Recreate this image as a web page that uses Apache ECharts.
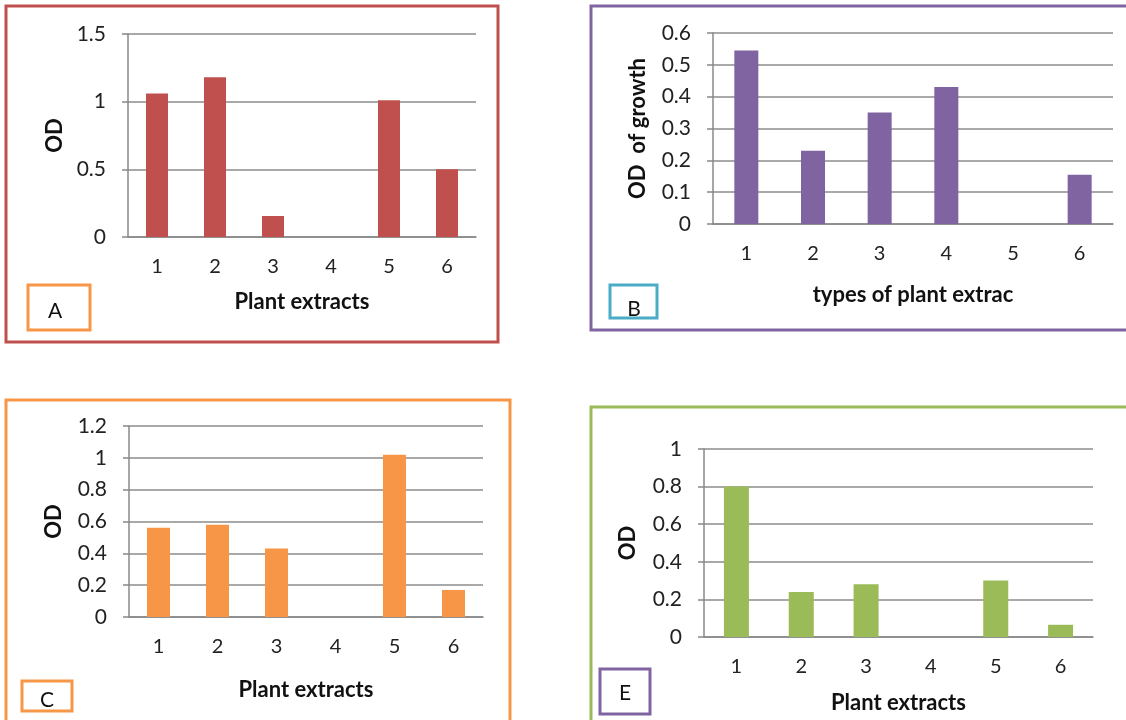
<!DOCTYPE html>
<html><head><meta charset="utf-8">
<script src="https://cdn.jsdelivr.net/npm/echarts@6/dist/echarts.min.js"></script>
<style>html,body{margin:0;padding:0;background:#fff}#c{width:1126px;height:720px}</style>
</head><body><div id="c"></div>
<script>
const categories = ['1','2','3','4','5','6'];
const valuesA = [1.06, 1.18, 0.155, 0, 1.01, 0.5];
const valuesB = [0.545, 0.23, 0.35, 0.43, 0, 0.155];
const valuesC = [0.56, 0.58, 0.43, 0, 1.02, 0.17];
const valuesE = [0.8, 0.24, 0.28, 0, 0.3, 0.065];
const yTitles = ['OD', 'OD  of growth', 'OD', 'OD'];
const xTitles = ['Plant extracts', 'types of plant extrac', 'Plant extracts', 'Plant extracts'];
const panelLabels = ['A', 'B', 'C', 'E'];

const font = 'Lato, "Open Sans", sans-serif';
const grids = [
  {left:128, top:34, width:348, height:203},
  {left:713, top:33, width:400, height:191},
  {left:129, top:426, width:354, height:191},
  {left:704, top:449, width:389, height:188}
];
const yCfg = [
  {max:1.5, interval:0.5},
  {max:0.6, interval:0.1},
  {max:1.2, interval:0.2},
  {max:1, interval:0.2}
];
const colors = ['#c0504d', '#8064a2', '#f79646', '#9bbb59'];
const data = [valuesA, valuesB, valuesC, valuesE];
const barW = [22, 24, 23, 25];
const yNameGap = [62, 64, 64, 65];
const xNameGap = [54, 60, 62, 55];

const option = {
  animation: false,
  grid: grids,
  xAxis: grids.map((g, i) => ({
    type: 'category', gridIndex: i, data: categories,
    axisLine: {show: true, lineStyle: {color: '#888888', width: 1.5}},
    axisTick: {show: false},
    axisLabel: {color: '#222', fontSize: 20, fontFamily: font, margin: 20},
    name: xTitles[i], nameLocation: 'middle', nameGap: xNameGap[i],
    nameTextStyle: {color: '#111', fontSize: 22, fontWeight: 'bold', fontFamily: font}
  })),
  yAxis: grids.map((g, i) => ({
    type: 'value', gridIndex: i, min: 0, max: yCfg[i].max, interval: yCfg[i].interval,
    axisLine: {show: true, lineStyle: {color: '#888888', width: 1.5}},
    axisTick: {show: true, length: 6, lineStyle: {color: '#888888', width: 1.5}},
    splitLine: {show: true, lineStyle: {color: '#8c8c8c', width: 1.5}},
    axisLabel: {color: '#222', fontSize: 21, fontFamily: font, margin: 22},
    name: yTitles[i], nameLocation: 'middle', nameRotate: 90, nameGap: yNameGap[i],
    nameTextStyle: {color: '#111', fontSize: 22, fontWeight: 'bold', fontFamily: font}
  })),
  series: data.map((d, i) => ({
    type: 'bar', xAxisIndex: i, yAxisIndex: i, data: d,
    barWidth: barW[i], itemStyle: {color: colors[i]}
  })),
  graphic: [
    {type:'rect', shape:{x:6, y:6, width:492, height:336}, style:{fill:'none', stroke:'#c0504d', lineWidth:3}},
    {type:'rect', shape:{x:591, y:6, width:545, height:324}, style:{fill:'none', stroke:'#8064a2', lineWidth:3}},
    {type:'rect', shape:{x:6, y:400, width:504, height:340}, style:{fill:'none', stroke:'#f79646', lineWidth:3}},
    {type:'rect', shape:{x:591, y:407, width:545, height:330}, style:{fill:'none', stroke:'#9bbb59', lineWidth:3}},
    {type:'rect', shape:{x:28, y:285, width:62, height:45}, style:{fill:'none', stroke:'#f79646', lineWidth:3}},
    {type:'rect', shape:{x:610, y:285, width:47, height:33}, style:{fill:'none', stroke:'#4bacc6', lineWidth:3}},
    {type:'rect', shape:{x:22, y:681, width:50, height:30}, style:{fill:'none', stroke:'#f79646', lineWidth:3}},
    {type:'rect', shape:{x:600, y:669, width:50, height:45}, style:{fill:'none', stroke:'#8064a2', lineWidth:3}},
    {type:'text', x:55, y:311, style:{text:panelLabels[0], fill:'#111', font:'21px ' + font, textAlign:'center', textVerticalAlign:'middle'}},
    {type:'text', x:634, y:309, style:{text:panelLabels[1], fill:'#111', font:'21px ' + font, textAlign:'center', textVerticalAlign:'middle'}},
    {type:'text', x:47, y:700, style:{text:panelLabels[2], fill:'#111', font:'21px ' + font, textAlign:'center', textVerticalAlign:'middle'}},
    {type:'text', x:625, y:693, style:{text:panelLabels[3], fill:'#111', font:'21px ' + font, textAlign:'center', textVerticalAlign:'middle'}}
  ]
};
echarts.init(document.getElementById('c'), null, {renderer:'canvas'}).setOption(option);
</script></body></html>
